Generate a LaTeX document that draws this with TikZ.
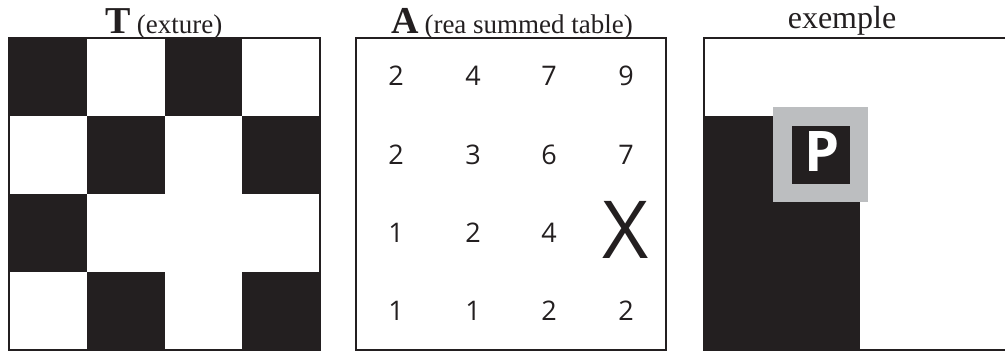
\documentclass[tikz,border=0pt]{standalone}
\usepackage{fontspec}
\setmainfont{Liberation Serif}
\newfontfamily\numfont{Open Sans}
\definecolor{ink}{HTML}{231F20}
\definecolor{greyp}{HTML}{BCBEC0}
\tikzset{
  cellbk/.style={fill=ink},
  frame/.style={draw=ink,line width=2pt},
  num/.style={inner sep=0pt,font=\numfont\fontsize{27}{27}\selectfont,text=ink},
  ttl/.style={inner sep=0pt,anchor=base,text=ink}
}
\begin{document}
\begin{tikzpicture}[x=1pt,y=-1pt]
\useasboundingbox (0,0) rectangle (1005,351);
\clip (0,0) rectangle (1005,351);
% ---- panel 1: texture
\foreach \c/\r in {0/0,2/0,1/1,3/1,0/2,1/3,3/3}{
  \fill[cellbk] ({9+77.75*\c},{38+78*\r}) rectangle +(77.75,78);
}
\draw[draw=ink,line width=1.5pt] (9,38) rectangle (320,350);
\node[ttl] (titleT) at (164,33) {{\fontsize{38}{38}\selectfont\bfseries T}\hspace{6pt}{\fontsize{27}{27}\selectfont(exture)}};
% ---- panel 2: summed area table
\draw[frame] (356,38) rectangle (666,350);
\node[ttl] (titleA) at (512,33) {{\fontsize{38}{38}\selectfont\bfseries A}\hspace{6pt}{\fontsize{27}{27}\selectfont(rea summed table)}};
\node[num] (a11) at (396,76) {2};
\node[num] (a12) at (473,76) {4};
\node[num] (a13) at (549,76) {7};
\node[num] (a14) at (626,76) {9};
\node[num] (a21) at (396,155) {2};
\node[num] (a22) at (473,155) {3};
\node[num] (a23) at (549,155) {6};
\node[num] (a24) at (626,155) {7};
\node[num] (a31) at (396,233) {1};
\node[num] (a32) at (473,233) {2};
\node[num] (a33) at (549,233) {4};
\node[num,font=\numfont\fontsize{80}{80}\selectfont] (a34) at (626,230) {X};
\node[num] (a41) at (396,311) {1};
\node[num] (a42) at (473,311) {1};
\node[num] (a43) at (549,311) {2};
\node[num] (a44) at (626,311) {2};
% ---- panel 3: example
\node[ttl] (titleE) at (842,28) {\fontsize{32}{32}\selectfont exemple};
\fill[ink] (704,116) rectangle (860,350);
\draw[frame] (1010,38) -- (704,38) -- (704,350) -- (1010,350);
\fill[greyp] (773,107) rectangle (868,202);
\fill[ink] (792,126) rectangle (850,184);
\node[inner sep=0pt,text=white,font=\numfont\bfseries\fontsize{56}{56}\selectfont] (P) at (822,152) {P};
\end{tikzpicture}
\end{document}
